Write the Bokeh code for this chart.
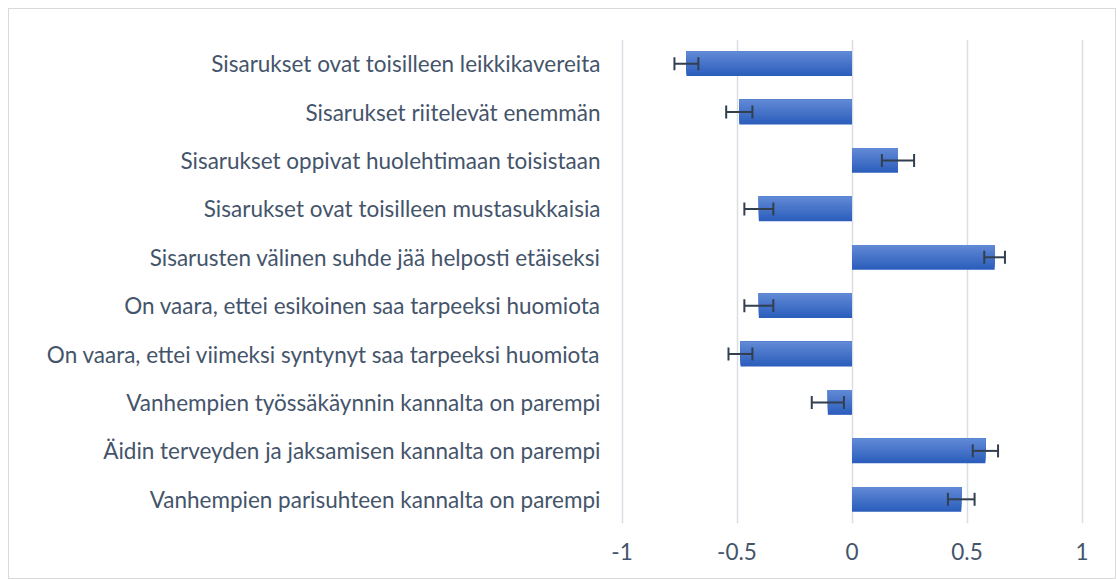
from bokeh.plotting import figure
from bokeh.models import ColumnDataSource, Whisker, TeeHead, FixedTicker, NumeralTickFormatter
from bokeh.transform import dodge
from bokeh.embed import file_html
from bokeh.resources import INLINE

categories = [
    "Sisarukset ovat toisilleen leikkikavereita",
    "Sisarukset riitelevät enemmän",
    "Sisarukset oppivat huolehtimaan toisistaan",
    "Sisarukset ovat toisilleen mustasukkaisia",
    "Sisarusten välinen suhde jää helposti etäiseksi",
    "On vaara, ettei esikoinen saa tarpeeksi huomiota",
    "On vaara, ettei viimeksi syntynyt saa tarpeeksi huomiota",
    "Vanhempien työssäkäynnin kannalta on parempi",
    "Äidin terveyden ja jaksamisen kannalta on parempi",
    "Vanhempien parisuhteen kannalta on parempi",
]
values = [-0.72, -0.49, 0.20, -0.405, 0.62, -0.405, -0.485, -0.105, 0.58, 0.475]
errors = [0.052, 0.057, 0.07, 0.063, 0.045, 0.063, 0.052, 0.07, 0.055, 0.058]
x_ticks = [-1, -0.5, 0, 0.5, 1]

src = ColumnDataSource(dict(
    cat=categories,
    val=values,
    lower=[v - e for v, e in zip(values, errors)],
    upper=[v + e for v, e in zip(values, errors)],
))

TEXT = "#44546a"
FONT = "Lato"

p = figure(
    width=1108, height=571,
    y_range=list(reversed(categories)),
    x_range=(-1.05, 1.05),
    output_backend="svg", toolbar_location=None,
    min_border_left=601, min_border_right=24, min_border_top=30, min_border_bottom=57,
    margin=(8, 0, 0, 8),
    styles={"border": "1px solid #d9d9d9"},
)
p.outline_line_color = None
p.background_fill_color = "white"
p.border_fill_color = "white"

# gradient-like bars: nested bars anchored at the top edge, lighter towards the top
n = 12
bar_h = 0.51
top_c = (0x60, 0x89, 0xd5)
bot_c = (0x2c, 0x5e, 0xbc)
for i in range(n):
    t = i / (n - 1)
    c = tuple(int(round(bot_c[k] + (top_c[k] - bot_c[k]) * t)) for k in range(3))
    col = "#%02x%02x%02x" % c
    h = bar_h * (n - i) / n
    off = bar_h / 2 - h / 2
    p.hbar(y=dodge("cat", off, range=p.y_range), right="val", left=0,
           height=h, source=src, fill_color=col, line_color=None)

w = Whisker(source=src, base="cat", lower="lower", upper="upper", dimension="width",
            line_color="#323f4f", line_width=2, level="overlay",
            lower_head=TeeHead(size=13, line_color="#323f4f", line_width=2),
            upper_head=TeeHead(size=13, line_color="#323f4f", line_width=2))
p.add_layout(w)

p.xaxis.ticker = FixedTicker(ticks=x_ticks)
p.xaxis.formatter = NumeralTickFormatter(format="0.[0]")
p.xgrid.ticker = FixedTicker(ticks=x_ticks)
p.xgrid.grid_line_color = "#dadde3"
p.xgrid.grid_line_width = 1.5
p.ygrid.grid_line_color = None

for ax in (p.xaxis, p.yaxis):
    ax.axis_line_color = None
    ax.major_tick_line_color = None
    ax.minor_tick_line_color = None
    ax.major_tick_out = 0
    ax.major_tick_in = 0
    ax.major_label_text_font = FONT
    ax.major_label_text_font_size = "22.5px"
    ax.major_label_text_color = TEXT

p.yaxis.major_label_standoff = 10
p.xaxis.major_label_standoff = 19

open("out.html", "w").write(file_html(p, INLINE))
